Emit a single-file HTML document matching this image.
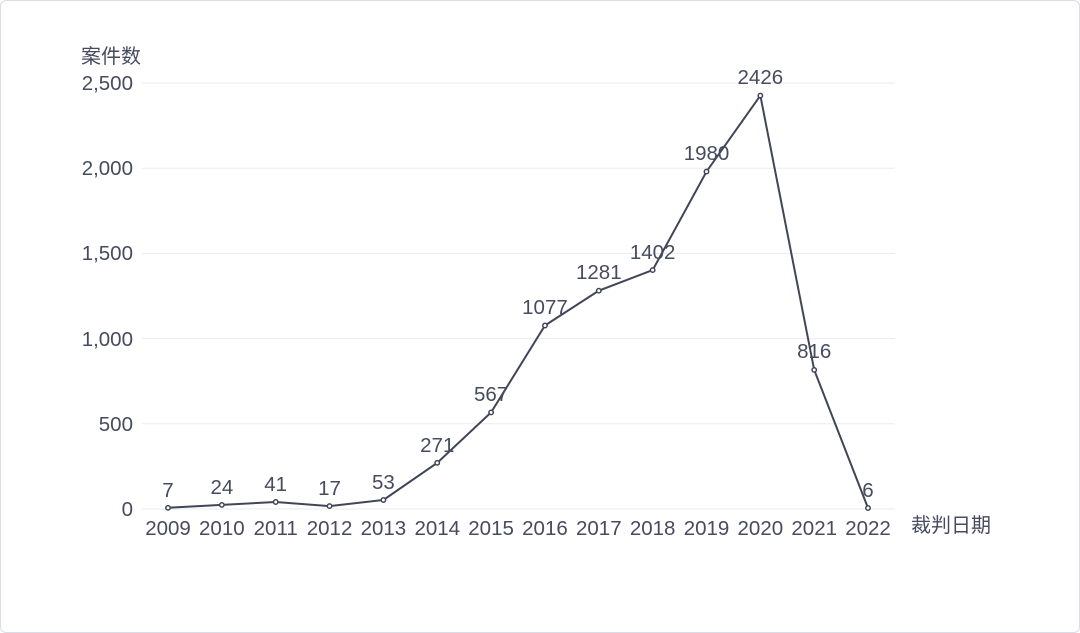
<!DOCTYPE html>
<html><head><meta charset="utf-8"><style>
html,body{margin:0;padding:0;background:#fff;}
.card{position:absolute;left:0;top:0;width:1078px;height:631px;border:1px solid #dcdce8;border-radius:6px;}
svg{position:absolute;left:0;top:0;}
text{font-family:"Liberation Sans","Noto Sans CJK SC",sans-serif;fill:#464c5e;font-size:20.5px;}
</style></head><body>
<div class="card"></div>
<svg width="1080" height="633">
<g stroke="#e8ebf2" stroke-width="1">
<line x1="142" y1="83" x2="895" y2="83"/>
<line x1="142" y1="168.2" x2="895" y2="168.2"/>
<line x1="142" y1="253.4" x2="895" y2="253.4"/>
<line x1="142" y1="338.6" x2="895" y2="338.6"/>
<line x1="142" y1="423.8" x2="895" y2="423.8"/>
<line x1="142" y1="509" x2="895" y2="509"/>
</g>
<g text-anchor="end">
<text x="133" y="90">2,500</text>
<text x="133" y="175">2,000</text>
<text x="133" y="260">1,500</text>
<text x="133" y="346">1,000</text>
<text x="133" y="431">500</text>
<text x="133" y="516">0</text>
</g>
<text x="81" y="63" style="font-size:20px">案件数</text>
<text x="911" y="532" style="font-size:20px">裁判日期</text>
<g text-anchor="middle">
<text x="168" y="535">2009</text><text x="221.85" y="535">2010</text><text x="275.7" y="535">2011</text><text x="329.55" y="535">2012</text><text x="383.4" y="535">2013</text><text x="437.25" y="535">2014</text><text x="491.1" y="535">2015</text><text x="544.95" y="535">2016</text><text x="598.8" y="535">2017</text><text x="652.65" y="535">2018</text><text x="706.5" y="535">2019</text><text x="760.35" y="535">2020</text><text x="814.2" y="535">2021</text><text x="868" y="535">2022</text>
</g>
<polyline fill="none" stroke="#404657" stroke-width="2" points="168,507.8 221.85,504.9 275.7,502 329.55,506.1 383.4,500 437.25,462.8 491.1,412.4 544.95,325.5 598.8,290.7 652.65,270.1 706.5,171.6 760.35,95.6 814.2,369.9 868,508"/>
<g fill="#fff" stroke="#404657" stroke-width="1.5">
<circle cx="168" cy="507.8" r="2.2"/><circle cx="221.85" cy="504.9" r="2.2"/><circle cx="275.7" cy="502" r="2.2"/><circle cx="329.55" cy="506.1" r="2.2"/><circle cx="383.4" cy="500" r="2.2"/><circle cx="437.25" cy="462.8" r="2.2"/><circle cx="491.1" cy="412.4" r="2.2"/><circle cx="544.95" cy="325.5" r="2.2"/><circle cx="598.8" cy="290.7" r="2.2"/><circle cx="652.65" cy="270.1" r="2.2"/><circle cx="706.5" cy="171.6" r="2.2"/><circle cx="760.35" cy="95.6" r="2.2"/><circle cx="814.2" cy="369.9" r="2.2"/><circle cx="868" cy="508" r="2.2"/>
</g>
<g text-anchor="middle">
<text x="168" y="497">7</text><text x="221.85" y="494">24</text><text x="275.7" y="491">41</text><text x="329.55" y="495">17</text><text x="383.4" y="489">53</text><text x="437.25" y="452">271</text><text x="491.1" y="401">567</text><text x="544.95" y="314">1077</text><text x="598.8" y="279">1281</text><text x="652.65" y="259">1402</text><text x="706.5" y="160">1980</text><text x="760.35" y="84">2426</text><text x="814.2" y="358">816</text><text x="868" y="497">6</text>
</g>
</svg>
</body></html>
